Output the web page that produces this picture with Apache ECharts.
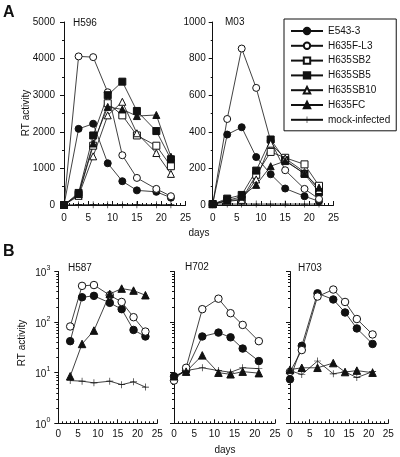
<!DOCTYPE html>
<html>
<head>
<meta charset="utf-8">
<script src="https://cdn.jsdelivr.net/npm/echarts@6/dist/echarts.min.js"></script>
<style>html,body{margin:0;padding:0;background:#fff}#c{width:400px;height:457px}</style>
</head>
<body>
<div id="c"></div>
<script>
// ---------- DATA ----------
var seriesNames = ['E543-3','H635F-L3','H635SB2','H635SB5','H635SB10','H635FC','mock-infected'];
var panelTitles = ['H596','M03','H587','H702','H703'];
var xTicks = [0,5,10,15,20,25];

// Panel A, H596 (linear)
var daysH596 = [0,3,6,9,12,15,19,22];
var h596_E543 = [0,2080,2220,1140,650,400,360,200];
var h596_FL3  = [0,4060,4040,3080,1360,740,440,240];
var h596_SB2  = [0,280,1620,2780,2450,1900,1620,1060];
var h596_SB5  = [0,330,1900,3000,3370,2570,2020,1250];
var h596_SB10 = [0,250,1330,2450,2820,1960,1420,850];
var h596_FC   = [0,300,1680,2680,2610,2430,2460,1320];
var h596_mock = [0,10,10,10,10,10,10,10];

// Panel A, M03 (linear)
var daysM03 = [0,3,6,9,12,15,19,22];
var m03_E543 = [5,385,425,262,168,90,48,20];
var m03_FL3  = [5,470,855,640,350,190,88,33];
var m03_SB2  = [5,25,30,165,290,258,222,105];
var m03_SB5  = [5,35,55,188,358,245,170,70];
var m03_SB10 = [5,20,28,140,335,255,180,82];
var m03_FC   = [5,25,45,110,212,240,172,95];
var m03_mock = [5,5,5,5,5,5,5,5];

// Panel B, H587 (log)
var daysH587 = [3,6,9,13,16,19,22];
var h587_E543 = [42,310,330,240,180,70,52];
var h587_FL3  = [82,520,540,340,250,125,65];
var h587_FC   = [8.5,37,68,360,460,420,340];
var h587_mock = [7,6.8,6.3,6.8,5.8,6.6,5.2];

// Panel B, H702 (log)
var daysH702 = [0,3,7,11,14,17,21];
var h702_E543 = [8.5,11,52,62,50,30,17];
var h702_FL3  = [7,12.5,180,290,150,88,42];
var h702_FC   = [8.5,10.5,22,10,9.3,10.5,9.8];
var h702_mock = [8,11,12.5,11,10.2,12.5,12];

// Panel B, H703 (log)
var daysH703 = [0,3,7,11,14,17,21];
var h703_E543 = [7.4,34,370,280,155,75,37];
var h703_FL3  = [10.4,28,320,440,250,115,57];
var h703_FC   = [11.5,12.5,12.5,15.5,10.3,11,10];
var h703_mock = [11,9.2,17,9.5,10.4,8,10.5];

var logMinorTicks = [2,3,4,5,6,7,8,9,20,30,40,50,60,70,80,90,200,300,400,500,600,700,800,900];

// ---------- BUILD ----------
var FONT = '"Liberation Sans", Arial, Helvetica, sans-serif';
var INK = '#111';
var plusPath = 'path://M0,4.55H10V5.45H0Z M4.55,0H5.45V10H4.55Z';
var styleOf = {
  'E543-3':        {symbol:'circle',   fill:INK},
  'H635F-L3':      {symbol:'circle',   fill:'#fff'},
  'H635SB2':       {symbol:'rect',     fill:'#fff'},
  'H635SB5':       {symbol:'rect',     fill:INK},
  'H635SB10':      {symbol:'triangle', fill:'#fff'},
  'H635FC':        {symbol:'triangle', fill:INK},
  'mock-infected': {symbol:plusPath,   fill:INK}
};

var panels = [
  {days:daysH596, log:false, sets:{'E543-3':h596_E543,'H635F-L3':h596_FL3,'H635SB2':h596_SB2,'H635SB5':h596_SB5,'H635SB10':h596_SB10,'H635FC':h596_FC,'mock-infected':h596_mock}},
  {days:daysM03, log:false, sets:{'E543-3':m03_E543,'H635F-L3':m03_FL3,'H635SB2':m03_SB2,'H635SB5':m03_SB5,'H635SB10':m03_SB10,'H635FC':m03_FC,'mock-infected':m03_mock}},
  {days:daysH587, log:true, sets:{'E543-3':h587_E543,'H635F-L3':h587_FL3,'H635FC':h587_FC,'mock-infected':h587_mock}},
  {days:daysH702, log:true, sets:{'E543-3':h702_E543,'H635F-L3':h702_FL3,'H635FC':h702_FC,'mock-infected':h702_mock}},
  {days:daysH703, log:true, sets:{'E543-3':h703_E543,'H635F-L3':h703_FL3,'H635FC':h703_FC,'mock-infected':h703_mock}}
];

var grids = [
  {left:64, top:22, width:121.5, height:183},
  {left:212.7, top:22, width:120.8, height:183},
  {left:58.3, top:271.5, width:99, height:151.8},
  {left:174, top:271.5, width:101, height:151.8},
  {left:290, top:271.5, width:98.3, height:151.8}
];
var yMax = [5000, 1000];
var yInt = [1000, 200];
var yLabelMargin = [9, 7, 9, 9, 9];

var xAxes = [], yAxes = [], series = [];
panels.forEach(function(p, i){
  var isA = !p.log;
  xAxes.push({
    gridIndex:i, type:'value', min:0, max:25, interval:5,
    axisLine:{lineStyle:{color:INK,width:1}},
    axisTick:{inside:true,length:4,lineStyle:{color:INK}},
    minorTick:{show:true,splitNumber:5,length:2,lineStyle:{color:INK}},
    splitLine:{show:false},
    axisLabel:{color:INK,fontSize:10,fontFamily:FONT,margin:isA?8:6,
      formatter:function(v){return xTicks.indexOf(v)>=0?String(v):'';}}
  });
  if (isA) {
    yAxes.push({
      gridIndex:i, type:'value', min:0, max:yMax[i], interval:yInt[i], position:'left',
      axisLine:{show:true,lineStyle:{color:INK,width:1}},
      axisTick:{show:true,length:4,lineStyle:{color:INK}},
      minorTick:{show:true,splitNumber:2,length:2,lineStyle:{color:INK}},
      splitLine:{show:false},
      axisLabel:{color:INK,fontSize:10,fontFamily:FONT,margin:yLabelMargin[i],
        formatter:function(v){return String(v);}}
    });
  } else {
    yAxes.push({
      gridIndex:i, type:'log', logBase:10, min:1, max:1000, position:'left',
      axisLine:{show:true,lineStyle:{color:INK,width:1}},
      axisTick:{show:true,length:4,lineStyle:{color:INK}},
      splitLine:{show:false},
      axisLabel:{show:i===2,color:INK,fontFamily:FONT,margin:8,
        formatter:function(v){return '{b|10}{s|'+Math.round(Math.log(v)/Math.LN10)+'}';},
        rich:{b:{fontSize:10,lineHeight:14,verticalAlign:'bottom',fontFamily:FONT,color:INK},
              s:{fontSize:7,lineHeight:8,verticalAlign:'top',fontFamily:FONT,color:INK}}}
    });
  }
});
// minor log ticks (extra overlay axes on the same left line)
[2,3,4].forEach(function(i){
  yAxes.push({
    gridIndex:i, type:'log', logBase:10, min:1, max:1000, position:'left', offset:0,
    axisLine:{show:false,onZero:false}, splitLine:{show:false},
    axisLabel:{show:false},
    axisTick:{show:true,length:2,customValues:logMinorTicks,lineStyle:{color:INK}}
  });
});

panels.forEach(function(p, i){
  seriesNames.forEach(function(name){
    var vals = p.sets[name];
    if (!vals) return;
    var st = styleOf[name];
    var isPlus = name === 'mock-infected';
    series.push({
      name:name, type:'line', xAxisIndex:i, yAxisIndex:i,
      data:p.days.map(function(d,k){return [d, vals[k]];}),
      symbol:st.symbol, symbolSize:isPlus?7:(p.log?7.5:7), symbolKeepAspect:true,
      showAllSymbol:true,
      lineStyle:{color:INK,width:0.8},
      itemStyle:{color:st.fill,borderColor:INK,borderWidth:isPlus?0:1},
      emphasis:{disabled:true},
      animation:false, z: isPlus?1:2
    });
  });
});

var chart = echarts.init(document.getElementById('c'), null, {renderer:'canvas'});
chart.setOption({
  backgroundColor:'#fff',
  animation:false,
  textStyle:{fontFamily:FONT},
  grid:grids,
  xAxis:xAxes,
  yAxis:yAxes,
  legend:{
    data:seriesNames, orient:'vertical', left:284, top:19,
    width:115,
    backgroundColor:'#fff', borderColor:INK, borderWidth:1, borderRadius:0,
    padding:[7,6,6,6], itemGap:4.8, itemWidth:32, itemHeight:8,
    textStyle:{fontSize:10,lineHeight:8,color:INK,fontFamily:FONT},
    selectedMode:false
  },
  graphic:[
    {type:'text',x:3,y:5,style:{text:'A',font:'bold 16px '+FONT,fill:INK}},
    {type:'text',x:3,y:244,style:{text:'B',font:'bold 16px '+FONT,fill:INK}},
    {type:'text',x:26,y:113,rotation:Math.PI/2,style:{text:'RT activity',font:'10px '+FONT,fill:INK,align:'center',verticalAlign:'middle'}},
    {type:'text',x:22,y:343,rotation:Math.PI/2,style:{text:'RT activity',font:'10px '+FONT,fill:INK,align:'center',verticalAlign:'middle'}},
    {type:'text',x:199,y:233,style:{text:'days',font:'10px '+FONT,fill:INK,align:'center',verticalAlign:'middle'}},
    {type:'text',x:225,y:450,style:{text:'days',font:'10px '+FONT,fill:INK,align:'center',verticalAlign:'middle'}},
    {type:'text',x:73,y:23,style:{text:panelTitles[0],font:'10px '+FONT,fill:INK,verticalAlign:'middle'}},
    {type:'text',x:225,y:22,style:{text:panelTitles[1],font:'10px '+FONT,fill:INK,verticalAlign:'middle'}},
    {type:'text',x:68,y:268,style:{text:panelTitles[2],font:'10px '+FONT,fill:INK,verticalAlign:'middle'}},
    {type:'text',x:185,y:267,style:{text:panelTitles[3],font:'10px '+FONT,fill:INK,verticalAlign:'middle'}},
    {type:'text',x:298,y:268,style:{text:panelTitles[4],font:'10px '+FONT,fill:INK,verticalAlign:'middle'}}
  ],
  series:series
});
</script>
</body>
</html>
